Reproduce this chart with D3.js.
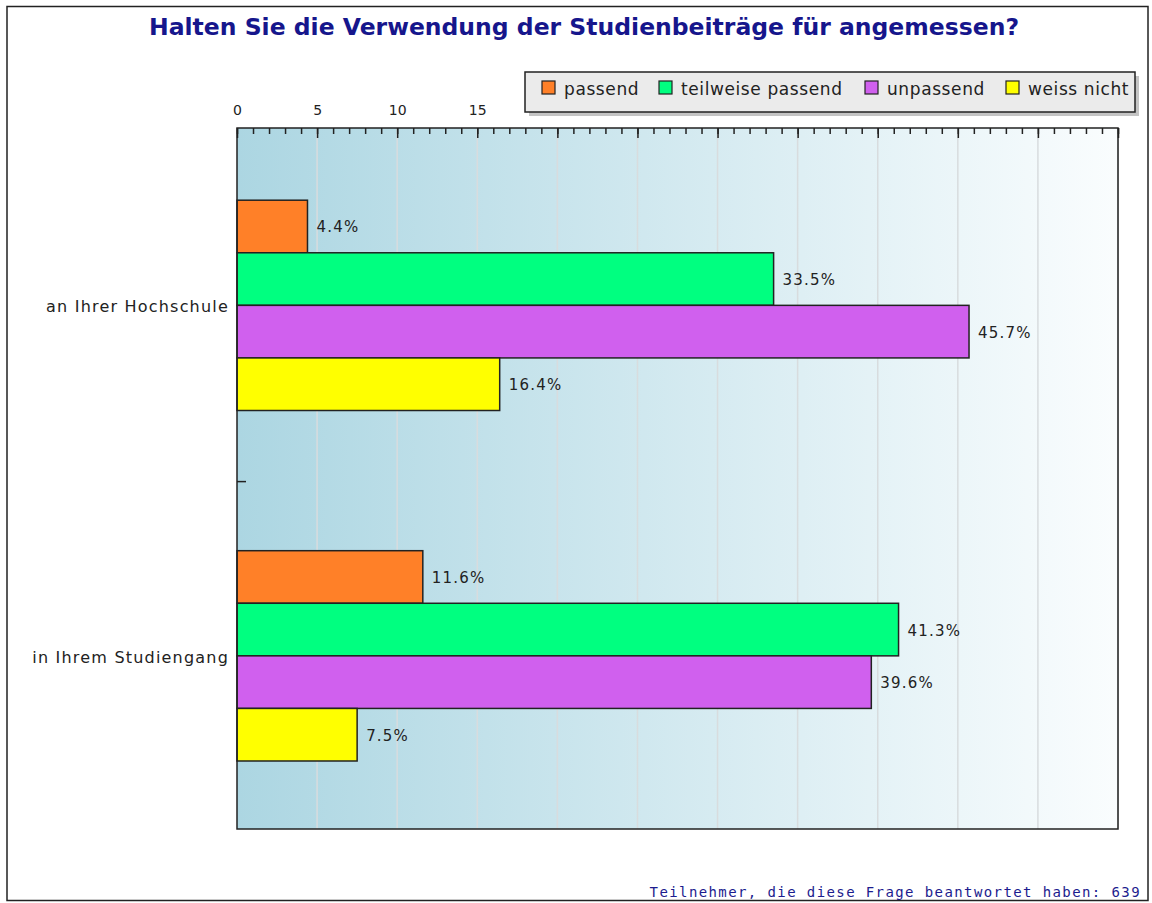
<!DOCTYPE html>
<html>
<head>
<meta charset="utf-8">
<script src="https://cdn.jsdelivr.net/npm/d3@7"></script>
<style>
  body { margin: 0; background: #fff; }
  svg { display: block; }
</style>
</head>
<body>
<script>
// data
const categories = ["an Ihrer Hochschule", "in Ihrem Studiengang"];
const seriesNames = ["passend", "teilweise passend", "unpassend", "weiss nicht"];
const seriesColors = ["#ff8028", "#00ff80", "#d060ee", "#ffff00"];
const passend = [4.4, 11.6];
const teilweise = [33.5, 41.3];
const unpassend = [45.7, 39.6];
const weissNicht = [16.4, 7.5];
const seriesValues = [passend, teilweise, unpassend, weissNicht];
const xTicks = d3.range(0, 56, 5);

const width = 1152, height = 903;
const plot = { left: 237, top: 128, right: 1118, bottom: 829 };

const svg = d3.select("body").append("svg")
    .attr("width", width)
    .attr("height", height);

// outer frame
svg.append("rect")
    .attr("x", 7).attr("y", 6.5)
    .attr("width", 1141).attr("height", 894)
    .attr("fill", "#fff")
    .attr("stroke", "#222")
    .attr("stroke-width", 1.5);

// background gradient
const defs = svg.append("defs");
const grad = defs.append("linearGradient").attr("id", "bg")
    .attr("x1", "0%").attr("x2", "100%").attr("y1", "0%").attr("y2", "0%");
grad.append("stop").attr("offset", "0%").attr("stop-color", "#acd6e2");
grad.append("stop").attr("offset", "100%").attr("stop-color", "#fafdfe");

svg.append("text")
    .attr("x", 584).attr("y", 35)
    .attr("text-anchor", "middle")
    .attr("font-family", "DejaVu Sans, Verdana, sans-serif")
    .attr("font-weight", "bold")
    .attr("font-size", 23.5)
    .attr("fill", "#16168c")
    .text("Halten Sie die Verwendung der Studienbeiträge für angemessen?");

const x = d3.scaleLinear().domain([0, 55]).range([plot.left, plot.right]);
const y0 = d3.scaleBand().domain(categories).range([plot.top, plot.bottom])
    .paddingInner(0.4).paddingOuter(0.2).align(0.515);
const y1 = d3.scaleBand().domain(seriesNames).range([0, y0.bandwidth()]);

svg.append("rect")
    .attr("x", plot.left).attr("y", plot.top)
    .attr("width", plot.right - plot.left).attr("height", plot.bottom - plot.top)
    .attr("fill", "url(#bg)");

// grid lines
svg.append("g").selectAll("line")
    .data(xTicks.slice(1))
    .join("line")
    .attr("x1", d => x(d)).attr("x2", d => x(d))
    .attr("y1", plot.top).attr("y2", plot.bottom)
    .attr("stroke", "#d8dcde")
    .attr("stroke-width", 1.5);

// top axis: minor + major ticks pointing inward
const minorAxis = svg.append("g")
    .attr("transform", `translate(0,${plot.top})`)
    .call(d3.axisTop(x).tickValues(d3.range(0, 56, 1)).tickSize(-6).tickFormat(""));
minorAxis.select(".domain").remove();
minorAxis.selectAll("line").attr("stroke", "#222").attr("stroke-width", 1.5);

const majorAxis = svg.append("g")
    .attr("transform", `translate(0,${plot.top})`)
    .call(d3.axisTop(x).tickValues(xTicks).tickSize(-10).tickPadding(13));
majorAxis.select(".domain").remove();
majorAxis.selectAll("line").attr("stroke", "#222").attr("stroke-width", 1.5);
majorAxis.selectAll("text")
    .attr("font-family", "DejaVu Sans, Verdana, sans-serif")
    .attr("font-size", 14)
    .attr("fill", "#222");

// bars
const groups = svg.append("g").selectAll("g")
    .data(categories)
    .join("g")
    .attr("transform", d => `translate(0,${y0(d)})`);

groups.selectAll("rect")
    .data((d, i) => seriesNames.map((s, j) => ({ s, v: seriesValues[j][i], c: seriesColors[j] })))
    .join("rect")
    .attr("x", x(0))
    .attr("y", d => y1(d.s))
    .attr("width", d => x(d.v) - x(0))
    .attr("height", y1.bandwidth())
    .attr("fill", d => d.c)
    .attr("stroke", "#222")
    .attr("stroke-width", 1.5);

groups.selectAll("text")
    .data((d, i) => seriesNames.map((s, j) => ({ s, v: seriesValues[j][i] })))
    .join("text")
    .attr("x", d => x(d.v) + 9)
    .attr("y", d => y1(d.s) + y1.bandwidth() / 2 + 6)
    .attr("font-family", "DejaVu Sans, Verdana, sans-serif")
    .attr("font-size", 15)
    .attr("letter-spacing", 1.2)
    .attr("fill", "#222")
    .text(d => d.v.toFixed(1) + "%");

// category labels
svg.append("g").selectAll("text")
    .data(categories)
    .join("text")
    .attr("x", plot.left - 8)
    .attr("y", d => y0(d) + y0.bandwidth() / 2 + 7)
    .attr("text-anchor", "end")
    .attr("font-family", "DejaVu Sans, Verdana, sans-serif")
    .attr("font-size", 16)
    .attr("letter-spacing", 1.2)
    .attr("fill", "#222")
    .text(d => d);

// separator tick between categories
const midY = (y0(categories[0]) + y0.bandwidth() + y0(categories[1])) / 2;
svg.append("line")
    .attr("x1", plot.left).attr("x2", plot.left + 9)
    .attr("y1", midY + 1).attr("y2", midY + 1)
    .attr("stroke", "#222").attr("stroke-width", 1.5);

// plot frame
svg.append("rect")
    .attr("x", plot.left).attr("y", plot.top)
    .attr("width", plot.right - plot.left).attr("height", plot.bottom - plot.top)
    .attr("fill", "none")
    .attr("stroke", "#222")
    .attr("stroke-width", 1.5);

// legend
const legend = svg.append("g").attr("transform", "translate(525,72)");
legend.append("rect")
    .attr("x", 4).attr("y", 4).attr("width", 610).attr("height", 40)
    .attr("fill", "#c4c4c4");
legend.append("rect")
    .attr("x", 0).attr("y", 0).attr("width", 610).attr("height", 40)
    .attr("fill", "#ebebeb").attr("stroke", "#222").attr("stroke-width", 1.5);
const legendX = [17, 134, 340, 481];
const items = legend.selectAll("g.item")
    .data(seriesNames)
    .join("g")
    .attr("class", "item")
    .attr("transform", (d, i) => `translate(${legendX[i]},0)`);
items.append("rect")
    .attr("x", 0).attr("y", 9).attr("width", 13).attr("height", 13)
    .attr("fill", (d, i) => seriesColors[i])
    .attr("stroke", "#222").attr("stroke-width", 1.2);
items.append("text")
    .attr("x", 22).attr("y", 23)
    .attr("font-family", "DejaVu Sans, Verdana, sans-serif")
    .attr("font-size", 17)
    .attr("letter-spacing", 0.6)
    .attr("fill", "#222")
    .text(d => d);

// footer
svg.append("text")
    .attr("x", 1141).attr("y", 897)
    .attr("text-anchor", "end")
    .attr("font-family", "DejaVu Sans Mono, monospace")
    .attr("font-size", 14)
    .attr("letter-spacing", 1.4)
    .attr("fill", "#1c1c8e")
    .text("Teilnehmer, die diese Frage beantwortet haben: 639");
</script>
</body>
</html>
